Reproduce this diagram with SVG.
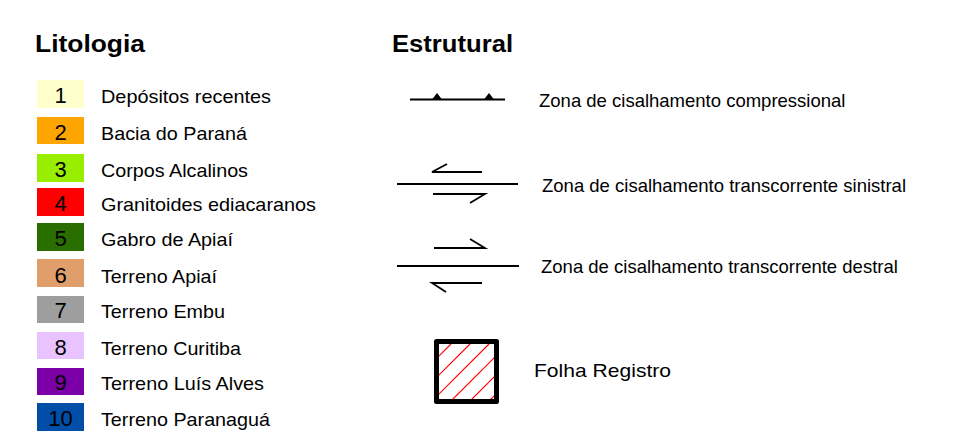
<svg xmlns="http://www.w3.org/2000/svg" width="967" height="447" viewBox="0 0 967 447">
<style>
text{font-family:"Liberation Sans",Arial,sans-serif;fill:#000}
.h{font-size:24px;font-weight:bold}
.lab{font-size:19px}
.num{font-size:22px;text-anchor:middle}
.rl{font-size:18.5px}
.ln{stroke:#000;stroke-width:2;fill:none}
.hl{stroke:#000;stroke-width:1.8;fill:none}
.hatch{stroke:#ff0000;stroke-width:1.2}
</style>
<defs>
<clipPath id="inner"><rect x="439" y="344" width="55" height="55"/></clipPath>
</defs>
<rect width="967" height="447" fill="#fff"/>
<text class="h" x="35" y="52" textLength="110" lengthAdjust="spacingAndGlyphs">Litologia</text>
<text class="h" x="392" y="52" textLength="121" lengthAdjust="spacingAndGlyphs">Estrutural</text>

<g id="lit1"><rect x="37" y="80" width="47" height="28" fill="#ffffcc"/><text class="num" x="60.5" y="103">1</text><text class="lab" x="101" y="103" textLength="170" lengthAdjust="spacingAndGlyphs">Depósitos recentes</text></g>
<g id="lit2"><rect x="37" y="117" width="47" height="27" fill="#ffa500"/><text class="num" x="60.5" y="140">2</text><text class="lab" x="101" y="140" textLength="146" lengthAdjust="spacingAndGlyphs">Bacia do Paraná</text></g>
<g id="lit3"><rect x="37" y="154" width="47" height="28" fill="#99ee00"/><text class="num" x="60.5" y="177">3</text><text class="lab" x="101" y="177" textLength="147" lengthAdjust="spacingAndGlyphs">Corpos Alcalinos</text></g>
<g id="lit4"><rect x="37" y="188" width="47" height="28" fill="#ff0000"/><text class="num" x="60.5" y="211">4</text><text class="lab" x="101" y="211" textLength="215" lengthAdjust="spacingAndGlyphs">Granitoides ediacaranos</text></g>
<g id="lit5"><rect x="37" y="223" width="47" height="28" fill="#2a6e00"/><text class="num" x="60.5" y="246">5</text><text class="lab" x="101" y="246" textLength="132" lengthAdjust="spacingAndGlyphs">Gabro de Apiaí</text></g>
<g id="lit6"><rect x="37" y="259" width="47" height="28" fill="#e09e6a"/><text class="num" x="60.5" y="283">6</text><text class="lab" x="101" y="283" textLength="116" lengthAdjust="spacingAndGlyphs">Terreno Apiaí</text></g>
<g id="lit7"><rect x="37" y="296" width="47" height="27" fill="#9e9e9e"/><text class="num" x="60.5" y="318">7</text><text class="lab" x="101" y="318" textLength="124" lengthAdjust="spacingAndGlyphs">Terreno Embu</text></g>
<g id="lit8"><rect x="37" y="332" width="47" height="27" fill="#e8c3ff"/><text class="num" x="60.5" y="355">8</text><text class="lab" x="101" y="355" textLength="140" lengthAdjust="spacingAndGlyphs">Terreno Curitiba</text></g>
<g id="lit9"><rect x="37" y="368" width="47" height="27" fill="#7b00a8"/><text class="num" x="60.5" y="390">9</text><text class="lab" x="101" y="390" textLength="163" lengthAdjust="spacingAndGlyphs">Terreno Luís Alves</text></g>
<g id="lit10"><rect x="37" y="403" width="47" height="28" fill="#004ea8"/><text class="num" x="60.5" y="426">10</text><text class="lab" x="101" y="426" textLength="169" lengthAdjust="spacingAndGlyphs">Terreno Paranaguá</text></g>

<g id="compressional">
<line class="ln" x1="410" y1="99.5" x2="505" y2="99.5"/>
<polygon points="437,93 432,99.5 442,99.5" fill="#000"/>
<polygon points="489,93 484,99.5 494,99.5" fill="#000"/>
<text class="rl" x="539" y="107">Zona de cisalhamento compressional</text>
</g>
<g id="sinistral">
<line class="ln" x1="397" y1="184" x2="518" y2="184"/>
<polyline class="hl" points="447,164 432,172 482,172"/>
<polyline class="hl" points="433,194 485,194 470,203"/>
<text class="rl" x="542" y="191.5">Zona de cisalhamento transcorrente sinistral</text>
</g>
<g id="dextral">
<line class="ln" x1="397" y1="266" x2="519" y2="266"/>
<polyline class="hl" points="434,248 485,248 470,239"/>
<polyline class="hl" points="482,283 432,283 446,292"/>
<text class="rl" x="541" y="273">Zona de cisalhamento transcorrente destral</text>
</g>
<g id="folha">
<g clip-path="url(#inner)">
<line class="hatch" x1="451" y1="344" x2="430" y2="365"/>
<line class="hatch" x1="470" y1="344" x2="430" y2="384"/>
<line class="hatch" x1="489" y1="344" x2="430" y2="403"/>
<line class="hatch" x1="508" y1="344" x2="449" y2="403"/>
<line class="hatch" x1="527" y1="344" x2="468" y2="403"/>
<line class="hatch" x1="546" y1="344" x2="487" y2="403"/>
</g>
<rect x="436.5" y="341.5" width="60" height="60" fill="none" stroke="#000" stroke-width="5" stroke-linejoin="round"/>
<text x="534" y="377" font-size="19" textLength="137" lengthAdjust="spacingAndGlyphs">Folha Registro</text>
</g>
</svg>
